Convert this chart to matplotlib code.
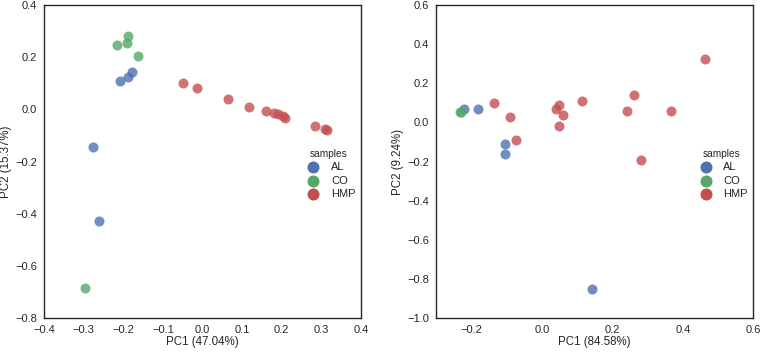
import matplotlib
matplotlib.use("Agg")
import matplotlib.pyplot as plt
import seaborn as sns

# ---------------------------------------------------------------------------
# Data
# ---------------------------------------------------------------------------
groups = ["AL", "CO", "HMP"]
colours = {"AL": "#4C72B0", "CO": "#55A868", "HMP": "#C44E52"}

# left panel: PC1 47.04 %, PC2 15.37 %
left_al_x = [-0.208, -0.189, -0.179, -0.276, -0.262]
left_al_y = [0.110, 0.123, 0.142, -0.143, -0.429]
left_co_x = [-0.215, -0.191, -0.188, -0.164, -0.296]
left_co_y = [0.248, 0.255, 0.281, 0.204, -0.684]
left_hmp_x = [-0.048, -0.015, 0.064, 0.117, 0.159, 0.181, 0.191, 0.202,
              0.207, 0.285, 0.309, 0.315]
left_hmp_y = [0.100, 0.083, 0.040, 0.010, -0.006, -0.015, -0.019, -0.026,
              -0.032, -0.064, -0.077, -0.079]

# right panel: PC1 84.58 %, PC2 9.24 %
right_al_x = [-0.221, -0.180, -0.105, -0.105, 0.143]
right_al_y = [0.067, 0.070, -0.112, -0.163, -0.853]
right_co_x = [-0.232, -0.228]
right_co_y = [0.051, 0.055]
right_hmp_x = [-0.136, -0.089, -0.073, 0.041, 0.050, 0.060, 0.049, 0.115,
               0.241, 0.261, 0.281, 0.366, 0.463]
right_hmp_y = [0.099, 0.029, -0.092, 0.068, 0.087, 0.038, -0.018, 0.109,
               0.060, 0.141, -0.192, 0.060, 0.323]

sns.set_style("white")
plt.rcParams["font.family"] = ["Liberation Sans", "DejaVu Sans"]
plt.rcParams["text.color"] = ".15"
plt.rcParams["axes.labelcolor"] = ".15"
plt.rcParams["xtick.color"] = ".15"
plt.rcParams["ytick.color"] = ".15"

fig = plt.figure(figsize=(7.6, 3.52), dpi=100)
ax1 = fig.add_axes([0.0579, 0.0966, 0.4171, 0.889])
ax2 = fig.add_axes([0.5737, 0.0966, 0.4175, 0.889])


def draw_panel(ax, data, xlabel, ylabel, xlim, ylim, xticks, yticks):
    for g in groups:
        xs, ys = data[g]
        ax.scatter(xs, ys, s=52, color=colours[g], alpha=0.8,
                   linewidths=0, label=g)
    ax.set_xlim(xlim)
    ax.set_ylim(ylim)
    ax.set_xticks(xticks)
    ax.set_yticks(yticks)
    ax.tick_params(labelsize=8, length=0, pad=5)
    ax.set_xlabel(xlabel, fontsize=8.3, labelpad=1)
    ax.set_ylabel(ylabel, fontsize=8.3, labelpad=2)
    for sp in ax.spines.values():
        sp.set_color(".15")
        sp.set_linewidth(1.0)
    leg = ax.legend(title="samples", loc="center left",
                    bbox_to_anchor=(0.79, 0.46), frameon=False,
                    fontsize=8, title_fontsize=7.3, markerscale=1.2,
                    handletextpad=0.6, labelspacing=0.3, borderpad=0.2)
    for h in leg.legend_handles:
        h.set_alpha(1)


draw_panel(ax1,
           {"AL": (left_al_x, left_al_y),
            "CO": (left_co_x, left_co_y),
            "HMP": (left_hmp_x, left_hmp_y)},
           "PC1 (47.04%)", "PC2 (15.37%)",
           (-0.4, 0.4), (-0.8, 0.4),
           [-0.4, -0.3, -0.2, -0.1, 0.0, 0.1, 0.2, 0.3, 0.4],
           [-0.8, -0.6, -0.4, -0.2, 0.0, 0.2, 0.4])

draw_panel(ax2,
           {"AL": (right_al_x, right_al_y),
            "CO": (right_co_x, right_co_y),
            "HMP": (right_hmp_x, right_hmp_y)},
           "PC1 (84.58%)", "PC2 (9.24%)",
           (-0.3, 0.6), (-1.0, 0.6),
           [-0.2, 0.0, 0.2, 0.4, 0.6],
           [-1.0, -0.8, -0.6, -0.4, -0.2, 0.0, 0.2, 0.4, 0.6])

fig.savefig("out.png", dpi=100)
plt.close(fig)
